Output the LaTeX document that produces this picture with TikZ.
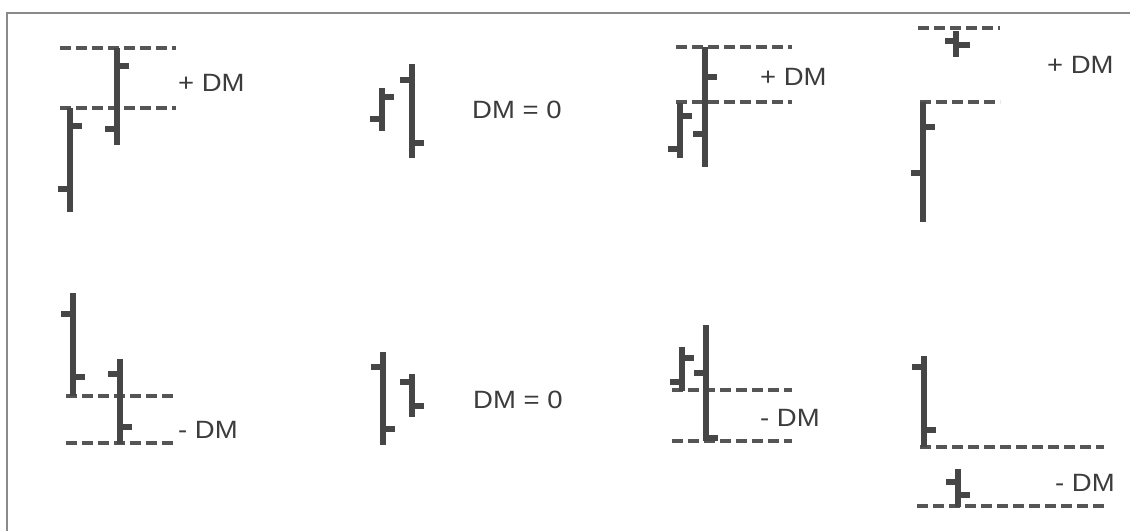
\documentclass[tikz,border=0pt]{standalone}
\usepackage{fontspec}
\setmainfont{Liberation Sans}
\definecolor{barcol}{HTML}{464646}
\definecolor{dashcol}{HTML}{555555}
\definecolor{txtcol}{HTML}{3C3C3C}
\definecolor{framecol}{HTML}{8A8A8A}
% one price bar: x, top, bottom, open level (left tick), close level (right tick)
\newcommand\pricebar[5]{%
  \draw[bar] (#1,#2) -- (#1,#3);
  \draw[tick] (#1-12,#4) -- (#1,#4);
  \draw[tick] (#1,#5) -- (#1+12,#5);}
\newcommand\lbltext[1]{\scalebox{1.1}[1]{#1}}
\begin{document}
\begin{tikzpicture}[x=1pt,y=-1pt,
  bar/.style={line width=6.5pt, draw=barcol},
  tick/.style={line width=6pt, draw=barcol},
  level/.style={line width=3.2pt, draw=dashcol, dash pattern=on 11pt off 5pt},
  lbl/.style={text=txtcol, inner sep=0pt, anchor=west, font=\fontsize{25}{25}\selectfont}]
\useasboundingbox (0,0) rectangle (1130,531);
\fill[white] (0,0) rectangle (1130,531);
\draw[framecol, line width=1.5pt] (7,531) -- (7,13) -- (1130,13);

% upper row
% panel 1: gap up
\draw[level] (60,48) -- (176,48);
\draw[level] (60,108) -- (176,108);
\pricebar{117}{48}{145}{129}{66}
\pricebar{70}{108}{212}{189}{126}
\node[lbl] (t1) at (178,83) {\lbltext{+ DM}};

% panel 2: inside bar
\pricebar{382}{88}{131}{119}{97}
\pricebar{412}{64}{158}{80}{143}
\node[lbl] (t2) at (472,110) {\lbltext{DM = 0}};

% panel 3: higher high
\draw[level] (676,47) -- (792,47);
\draw[level] (676,102) -- (792,102);
\pricebar{705}{47}{167}{134}{77}
\pricebar{680}{103}{158}{149}{116}
\node[lbl] (t3) at (760,77) {\lbltext{+ DM}};

% panel 4: gap far above
\draw[level] (918,28) -- (1000,28);
\draw[level] (920,102) -- (1000,102);
\draw[bar] (956,31) -- (956,57);
\draw[tick] (945,41) -- (956,41);
\draw[tick] (956,45) -- (970,45);
\pricebar{923}{102}{222}{173}{127}
\node[lbl] (t4) at (1047,65) {\lbltext{+ DM}};

% lower row
% panel 5: gap down
\draw[level] (66,396) -- (178,396);
\draw[level] (66,443) -- (178,443);
\pricebar{73}{293}{396}{314}{377}
\pricebar{120}{359}{444}{374}{427}
\node[lbl] (t5) at (178,430) {\lbltext{- DM}};

% panel 6: inside bar
\pricebar{383}{352}{445}{367}{429}
\pricebar{412}{374}{417}{382}{406}
\node[lbl] (t6) at (473,400) {\lbltext{DM = 0}};

% panel 7: lower low
\draw[level] (672,390) -- (792,390);
\draw[level] (672,441) -- (792,441);
\pricebar{706}{325}{441}{373}{438}
\pricebar{682}{347}{391}{382}{358}
\node[lbl] (t7) at (760,418) {\lbltext{- DM}};

% panel 8: gap far below
\draw[level] (920,447) -- (1104,447);
\draw[level] (917,506) -- (1104,506);
\pricebar{924}{356}{447}{367}{430}
\pricebar{958}{469}{507}{482}{495}
\node[lbl] (t8) at (1055,483) {\lbltext{- DM}};
\end{tikzpicture}
\end{document}
